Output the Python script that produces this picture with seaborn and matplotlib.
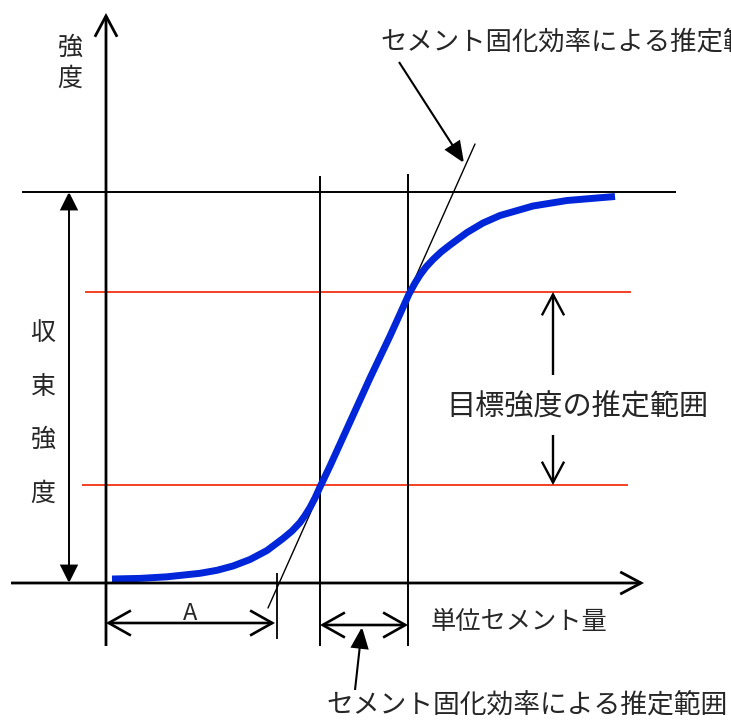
import matplotlib
matplotlib.use("Agg")
import matplotlib.pyplot as plt
import seaborn as sns

cement = [112, 140, 167, 200, 217, 233, 250, 267, 283, 292, 300, 305, 310,
          315, 320, 330, 340, 350, 360, 370, 380, 390, 400, 409, 415, 420,
          426, 433, 441, 450, 467, 483, 500, 533, 567, 615]
strength = [579, 578.4, 576.8, 573.3, 570.3, 566, 559.5, 550.5, 538.5, 531,
            522.5, 515.5, 507.5, 498, 487, 466, 444, 422, 400, 378, 357, 336,
            314, 294, 283, 275, 267, 259.5, 252, 245, 232.5, 223, 215.5,
            206, 200.5, 196.5]

converged_level = 192
target_levels = [292, 485]
target_starts = [85, 82]
target_ends = [631, 628]
efficiency_range = [320, 408]
point_A = 277
tangent_x = [475, 268]
tangent_y = [144, 608]

axis_origin = (106, 583)

ylabel = "強度"
xlabel = "単位セメント量"
side_label = "収束強度"
target_label = "目標強度の推定範囲"
eff_label = "セメント固化効率による推定範囲"

# 2. Style
sns.set_theme(style="white")
plt.rcParams["font.family"] = ["Noto Sans CJK JP", "DejaVu Sans"]

fig = plt.figure(figsize=(7.31, 7.2), dpi=100)
ax = fig.add_axes([0, 0, 1, 1])
ax.set_xlim(0, 731)
ax.set_ylim(720, 0)
ax.axis("off")

ox, oy = axis_origin


def arrow(tail, tip, style, lw):
    ax.annotate("", xy=tip, xytext=tail,
                arrowprops=dict(arrowstyle=style, lw=lw, color="black",
                                shrinkA=0, shrinkB=0, mutation_scale=1,
                                joinstyle="miter", capstyle="butt"))


chev = "->,head_length=15,head_width=8"
chev2 = "<->,head_length=16,head_width=9"

# 3. Axes du schéma
arrow((ox, 646), (ox, 13), chev, 2.0)
arrow((11, oy), (644, oy), chev, 2.0)

# lignes de référence
ax.hlines(converged_level, 22, 676, color="black", lw=1.4)
for lvl, x0, x1 in zip(target_levels, target_starts, target_ends):
    ax.hlines(lvl, x0, x1, color="#f02000", lw=1.2)
for xv, top in zip(efficiency_range, [176, 174]):
    ax.vlines(xv, top, 646, color="black", lw=1.4)
ax.vlines(point_A, 573, 639, color="black", lw=1.3)
ax.plot(tangent_x, tangent_y, color="black", lw=1.0)

# 4. Courbe de résistance
sns.lineplot(x=cement, y=strength, sort=False, color="#0026d9", lw=5,
             solid_capstyle="butt", solid_joinstyle="round", ax=ax)

# 5. Flèches et annotations
arrow((69, oy), (69, converged_level), "<|-|>,head_length=11,head_width=5.5", 1.4)
arrow((553, 375), (553, target_levels[0]), chev, 1.7)
arrow((553, 435), (553, target_levels[1]), chev, 1.7)
arrow((ox, 623), (point_A - 2, 623), chev2, 1.9)
arrow((efficiency_range[0], 625), (efficiency_range[1], 625), chev2, 1.9)
arrow((399, 62), (464, 163), "-|>,head_length=13,head_width=5.5", 1.5)
arrow((355, 690), (362, 627), "-|>,head_length=13,head_width=5.5", 1.5)

# 6. Textes
for i, ch in enumerate(ylabel):
    ax.text(70, 48 + i * 31, ch, fontsize=18, ha="center", va="center")
for i, ch in enumerate(side_label):
    ax.text(43, 333 + i * 53.5, ch, fontsize=18, ha="center", va="center")
ax.text(431, 622, xlabel, fontsize=18.2, ha="left", va="center")
ax.text(446, 407, target_label, fontsize=21, ha="left", va="center")
ax.text(190, 613, "A", fontsize=17, ha="center", va="center")
ax.text(380, 42, eff_label, fontsize=19, ha="left", va="center")
ax.text(326, 705, eff_label, fontsize=19.3, ha="left", va="center")

fig.savefig("out.png", dpi=100, facecolor="white")
